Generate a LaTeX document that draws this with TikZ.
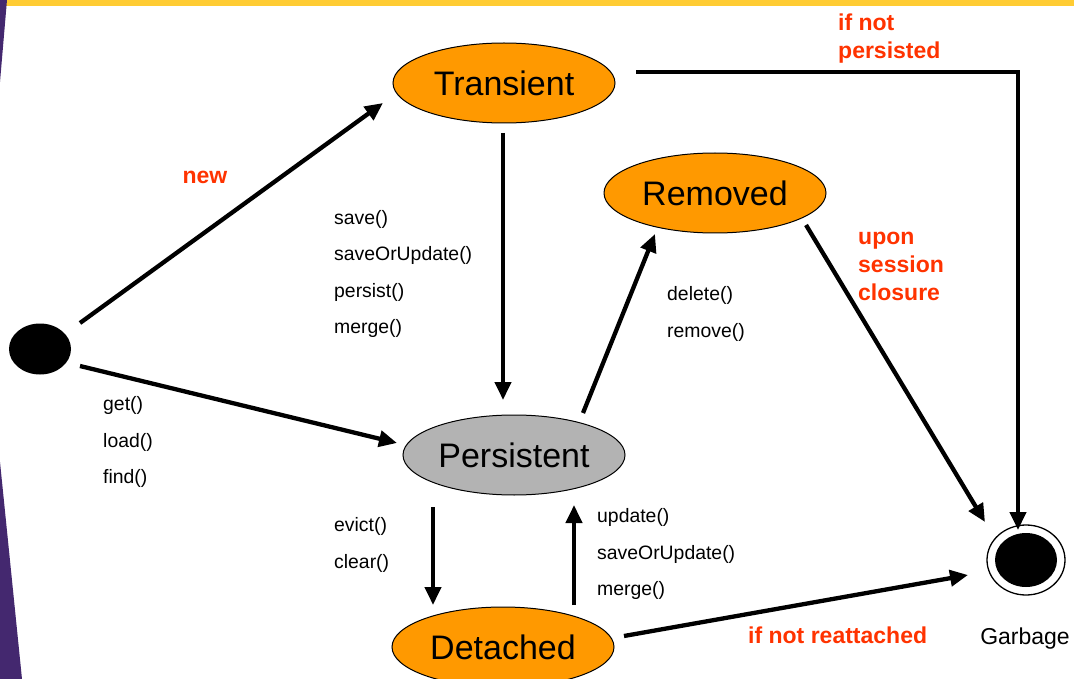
\documentclass[tikz,border=0pt]{standalone}
\usepackage{fontspec}
\setmainfont{Liberation Sans}
\usetikzlibrary{arrows.meta,calc,shapes.geometric}

\definecolor{stateorange}{HTML}{FF9900}
\definecolor{stategray}{HTML}{B3B3B3}
\definecolor{labelred}{HTML}{FF3300}
\definecolor{edgepurple}{HTML}{44286F}
\definecolor{baryellow}{HTML}{FFCC33}

\tikzset{
  state/.style={ellipse, draw=black, line width=1pt, minimum width=222pt,
    minimum height=80pt, inner sep=0pt, font=\fontsize{34}{40}\selectfont},
  flow/.style={line width=4.3pt, -{Triangle[length=18pt,width=16pt]}},
  methods/.style={anchor=west, align=left, inner sep=0pt,
    font=\fontsize{19.4}{36.5}\selectfont},
  event/.style={anchor=west, align=left, inner sep=0pt, text=labelred,
    font=\fontsize{23}{28}\selectfont\bfseries},
}

\begin{document}
\begin{tikzpicture}[x=1pt,y=-1pt]
\useasboundingbox (0,0) rectangle (1074,679);
\fill[white] (0,0) rectangle (1074,679);

% slide decoration: top bar and left edge
\fill[baryellow] (6,0) rectangle (1074,6);
\fill[edgepurple] (0,0) -- (7,0) -- (0,82) -- cycle;
\fill[edgepurple] (0,462) -- (22,679) -- (0,679) -- cycle;

% states
\node[state, fill=stateorange] (trans) at (504,83) {Transient};
\node[state, fill=stateorange] (removed) at (715,193) {Removed};
\node[state, fill=stategray] (persist) at (514,455) {Persistent};
\node[state, fill=stateorange] (detached) at (503,647) {Detached};

% initial and final pseudo-states
\node[ellipse, fill=black, minimum width=62pt, minimum height=51pt, inner sep=0pt] (start) at (40,349) {};
\node[ellipse, draw=black, fill=white, line width=1.3pt, minimum width=78pt, minimum height=70pt, inner sep=0pt] (end) at (1026,560) {};
\node[ellipse, fill=black, minimum width=62pt, minimum height=54pt, inner sep=0pt] (endcore) at (end) {};
\node[inner sep=0pt, font=\fontsize{23}{27}\selectfont] (garbage) at (1025,639) {Garbage};

% transitions
\draw[flow] ($(start)+(40,-26)$) -- ($(trans)+(-121,20)$);
\draw[flow] ($(start)+(40,17)$) -- ($(persist)+(-117,-12)$);
\draw[flow] ($(trans)+(-1,50)$) -- ($(persist)+(-11,-55)$);
\draw[flow] ($(persist)+(69,-42)$) -- ($(removed)+(-60,41)$);
\draw[flow] ($(removed)+(91,32)$) -- ($(end)+(-41,-38)$);
\draw[flow] ($(trans)+(132,-11)$) -| ($(end)+(-8,-30)$);
\draw[flow] ($(persist)+(-81,52)$) -- ($(detached)+(-70,-42)$);
\draw[flow] ($(detached)+(71,-42)$) -- ($(persist)+(60,50)$);
\draw[flow] ($(detached)+(121,-11)$) -- ($(end)+(-58,15)$);

% transition labels
\node[event, anchor=center] (lnew) at (205,177) {new};
\node[event] (lpersisted) at (838,39) {if not\\persisted};
\node[event] (lclosure) at (858,266) {upon\\session\\closure};
\node[event] (lreattach) at (748,635) {if not reattached};

\node[methods] (msave) at (334,274) {save()\\saveOrUpdate()\\persist()\\merge()};
\node[methods] (mdelete) at (667,314) {delete()\\remove()};
\node[methods] (mget) at (103,442) {get()\\load()\\find()};
\node[methods] (mevict) at (334,545) {evict()\\clear()};
\node[methods] (mupdate) at (597,554) {update()\\saveOrUpdate()\\merge()};
\end{tikzpicture}
\end{document}
